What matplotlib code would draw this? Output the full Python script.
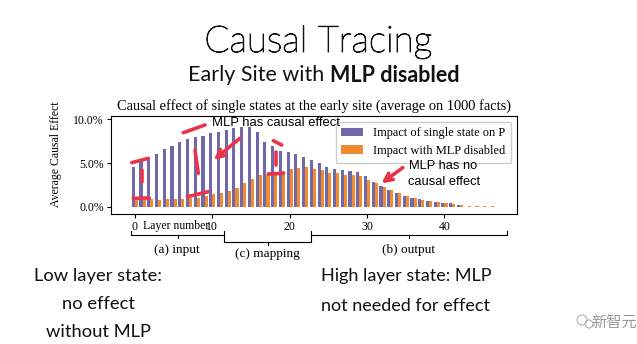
import matplotlib.pyplot as plt
import matplotlib.patheffects as pe
import numpy as np

# values (percent)
blue_vals = [4.6, 5.2, 5.6, 6.05, 6.6, 7.0, 7.45, 7.8, 8.0, 8.1, 8.4, 8.5, 8.75, 9.0, 9.15,
             9.15, 8.6, 7.45, 7.0, 6.4, 6.3, 6.05, 5.75, 5.4, 5.0, 4.6, 4.35, 4.2, 4.15, 4.0,
             3.5, 2.85, 2.35, 1.95, 1.6, 1.3, 1.0, 0.85, 0.65, 0.55, 0.45, 0.4, 0.25]
orange_vals = [0.75, 0.8, 0.85, 0.75, 0.85, 0.85, 0.9, 1.0, 1.0, 1.3, 1.45, 1.6, 1.8, 2.2, 2.75,
               3.2, 3.65, 3.6, 3.85, 4.05, 4.3, 4.4, 4.55, 4.35, 4.25, 3.85, 3.85, 3.65, 3.6, 3.5,
               3.1, 2.7, 2.25, 1.9, 1.55, 1.25, 1.0, 0.8, 0.65, 0.55, 0.45, 0.35, 0.25, 0.15, 0.1,
               0.1, 0.08, 0.05]
xticks = [0, 10, 20, 30, 40]
yticks = [0, 5, 10]
ytick_labels = ["0.0%", "5.0%", "10.0%"]

blue_c = "#7168aa"
orange_c = "#f28a2e"
red_c = "#e8344a"
serif = "Liberation Serif"
sans = "Lato"

fig = plt.figure(figsize=(6.37, 3.44), dpi=100)

# chart
ax = fig.add_axes([0.174, 0.378, 0.638, 0.2855])
lb = np.arange(len(blue_vals))
lo = np.arange(len(orange_vals))
ax.bar(lb - 0.2, blue_vals, width=0.4, color=blue_c, label="Impact of single state on P")
ax.bar(lo + 0.2, orange_vals, width=0.4, color=orange_c, label="Impact with MLP disabled")
ax.set_xlim(-3.1, 49.4)
ax.set_ylim(-0.8, 10.4)
ax.set_xticks(xticks)
ax.set_xticklabels([str(t) for t in xticks], fontfamily=serif, fontsize=8.5)
ax.set_yticks(yticks)
ax.set_yticklabels(ytick_labels, fontfamily=serif, fontsize=8.5)
ax.tick_params(length=3, width=0.8, pad=2)
ax.set_ylabel("Average Causal Effect", fontfamily=serif, fontsize=8.5)
ax.yaxis.set_label_coords(-0.12, 0.61)
ax.set_title("Causal effect of single states at the early site (average on 1000 facts)",
             fontfamily=serif, fontsize=10.4, pad=4)
ax.legend(loc="upper right", prop={"family": serif, "size": 8.9}, handlelength=1.8,
          borderpad=0.45, labelspacing=0.45, fancybox=True, framealpha=1, edgecolor="#cccccc")

# overlay in pixel coordinates for slide text and hand-drawn marks
ov = fig.add_axes([0, 0, 1, 1], zorder=5)
ov.set_xlim(0, 637)
ov.set_ylim(344, 0)
ov.axis("off")
ov.patch.set_alpha(0)

ov.text(318, 42, "Causal Tracing", ha="center", va="center", fontsize=26.5,
        family=sans, fontweight="light", color="#111111",
        path_effects=[pe.withStroke(linewidth=0.7, foreground="#111111")])
ov.text(324, 75, "Early Site with", ha="right", va="center", fontsize=15.5, family=sans, color="#111111")
ov.text(330, 75, "MLP disabled", ha="left", va="center", fontsize=15.5, family=sans,
        fontweight="bold", color="#111111")

# the axis label sits on top of the "10" tick label, as in the source figure
ov.text(176, 226, "Layer number", ha="center", va="center", fontsize=8.5, family=serif)

# braces under the axis
def brace(x0, x1, y, ydrop, yend):
    xm = (x0 + x1) / 2
    ov.plot([x0, x0, x1, x1], [yend, y, y, yend], color="black", lw=0.8)
    ov.plot([xm, xm], [y, y + ydrop], color="black", lw=0.8)

brace(131, 224, 235, 3, 231)
brace(224, 311, 242, 3, 234)
brace(311, 507, 235, 3, 231)
ov.text(177, 250, "(a) input", ha="center", va="center", fontsize=9.5, family=serif)
ov.text(267, 254, "(c) mapping", ha="center", va="center", fontsize=9.5, family=serif)
ov.text(408, 250, "(b) output", ha="center", va="center", fontsize=9.5, family=serif)

# notes written on the slide
ov.text(212, 123, "MLP has causal effect", ha="left", va="center", fontsize=9.4,
        family="Liberation Sans", color="black")
ov.text(409, 166, "MLP has no", ha="left", va="center", fontsize=9.3, family="Liberation Sans")
ov.text(408, 182, "causal effect", ha="left", va="center", fontsize=9.3, family="Liberation Sans")

strokes = [
    [(131.7, 162.7), (148.3, 158.3)], [(141.7, 170), (141.7, 182)], [(133.3, 198.3), (149.3, 198)],
    [(183.3, 132.7), (205, 125)], [(195, 150), (198.3, 173.3)], [(187.3, 196.7), (208.3, 191.7)],
    [(273.3, 140.7), (281.7, 145)], [(276, 152), (276, 165)], [(268.3, 174), (283.3, 173.3)],
]
for s in strokes:
    ov.plot([s[0][0], s[1][0]], [s[0][1], s[1][1]], color=red_c, lw=2.6, solid_capstyle="round")
ov.annotate("", xy=(211.7, 161.7), xytext=(241.7, 136.7),
            arrowprops=dict(arrowstyle="->", color=red_c, lw=2.6, mutation_scale=14))
ov.annotate("", xy=(379.3, 185), xytext=(405, 166),
            arrowprops=dict(arrowstyle="->", color=red_c, lw=2.6, mutation_scale=14))

# bottom notes
for i, line in enumerate(["Low layer state:", "no effect", "without MLP"]):
    ov.text(98, 276 + i * 28, line, ha="center", va="center", fontsize=13.2, family=sans, color="#111111")
for i, line in enumerate(["High layer state: MLP", "not needed for effect"]):
    ov.text(321, 276 + i * 30, line, ha="left", va="center", fontsize=13, family=sans, color="#111111")

# watermark
for cx, cy, r in [(582, 320, 5), (589, 324, 4)]:
    ov.add_patch(plt.Circle((cx, cy), r, fill=False, ec="#b0b0b0", lw=0.8))
ov.text(614, 322, "新智元", ha="center", va="center", fontsize=11,
        family=["Noto Sans CJK SC", "DejaVu Sans"], color="#9a9a9a")

fig.savefig("out.png", dpi=100, facecolor="white")
